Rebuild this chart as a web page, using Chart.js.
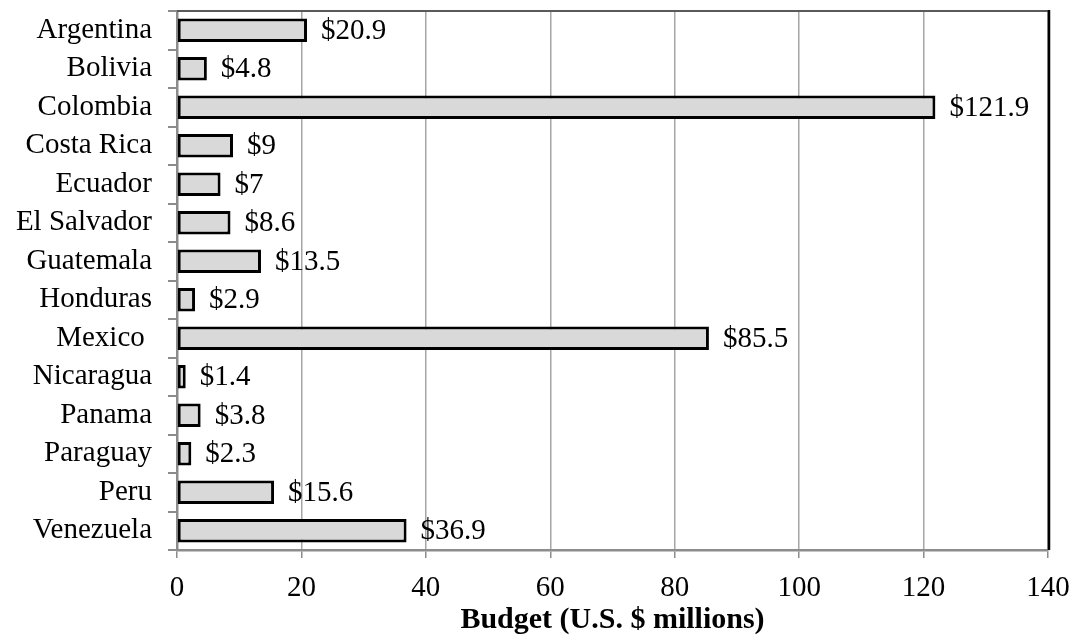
<!DOCTYPE html>
<html>
<head>
<meta charset="utf-8">
<title>Budget by country</title>
<script src="https://cdn.jsdelivr.net/npm/chart.js@4.4.1/dist/chart.umd.min.js"></script>
<style>
  html, body { margin: 0; padding: 0; background: #ffffff; }
  canvas { display: block; }
</style>
</head>
<body>
<canvas id="budgetChart" width="1070" height="638"></canvas>
<script>
// Budget per country, U.S. $ millions
const countries = ['Argentina', 'Bolivia', 'Colombia', 'Costa Rica', 'Ecuador', 'El Salvador',
  'Guatemala', 'Honduras', 'Mexico ', 'Nicaragua', 'Panama', 'Paraguay', 'Peru', 'Venezuela'];
const budgets = [20.9, 4.8, 121.9, 9, 7, 8.6, 13.5, 2.9, 85.5, 1.4, 3.8, 2.3, 15.6, 36.9];
const xMin = 0;
const xMax = 140;
const xStep = 20;
const axisTitle = 'Budget (U.S. $ millions)';

const SERIF = "'Liberation Serif', 'Times New Roman', serif";
const FONT_SIZE = 29;

// Writes "$value" just past the end of each bar
const valueLabels = {
  id: 'valueLabels',
  afterDatasetsDraw(chart) {
    const ctx = chart.ctx;
    const meta = chart.getDatasetMeta(0);
    ctx.save();
    ctx.font = FONT_SIZE + 'px ' + SERIF;
    ctx.fillStyle = '#000000';
    ctx.textAlign = 'left';
    ctx.textBaseline = 'middle';
    meta.data.forEach((bar, i) => {
      ctx.fillText('$' + budgets[i], bar.x + 14, bar.y + 1);
    });
    ctx.restore();
  }
};

// Closes the plot area with a top and right edge
const plotFrame = {
  id: 'plotFrame',
  afterDraw(chart) {
    const { ctx, chartArea: a } = chart;
    ctx.save();
    ctx.strokeStyle = '#5a5a5a';
    ctx.lineWidth = 2;
    ctx.beginPath();
    ctx.moveTo(a.left, a.top);
    ctx.lineTo(a.right + 1, a.top);
    ctx.stroke();
    ctx.strokeStyle = '#000000';
    ctx.lineWidth = 2.5;
    ctx.beginPath();
    ctx.moveTo(a.right + 1, a.top - 1);
    ctx.lineTo(a.right + 1, a.bottom);
    ctx.stroke();
    ctx.restore();
  }
};

new Chart(document.getElementById('budgetChart'), {
  type: 'bar',
  data: {
    labels: countries,
    datasets: [{
      data: budgets,
      backgroundColor: '#d9d9d9',
      borderColor: '#000000',
      borderWidth: 3,
      borderSkipped: false,
      categoryPercentage: 1,
      barPercentage: 0.61
    }]
  },
  options: {
    indexAxis: 'y',
    responsive: false,
    animation: false,
    devicePixelRatio: 1,
    layout: { padding: { top: 11, right: 22, left: 0, bottom: 0 } },
    plugins: {
      legend: { display: false },
      tooltip: { enabled: false }
    },
    scales: {
      x: {
        min: xMin,
        max: xMax,
        ticks: {
          stepSize: xStep,
          color: '#000000',
          padding: 13,
          font: { family: SERIF, size: FONT_SIZE }
        },
        grid: {
          color: '#a6a6a6',
          lineWidth: 1.5,
          tickLength: 8,
          tickColor: '#8c8c8c'
        },
        border: { display: true, color: '#8c8c8c', width: 2.5 },
        title: {
          display: true,
          text: axisTitle,
          color: '#000000',
          padding: { top: 0, bottom: 0 },
          font: { family: SERIF, size: 30, weight: 'bold' }
        },
        afterFit(scale) {
          scale.height = 88;
          scale.paddingLeft = 0;
          scale.paddingRight = 0;
        }
      },
      y: {
        ticks: {
          color: '#000000',
          padding: 16,
          font: { family: SERIF, size: FONT_SIZE }
        },
        grid: {
          drawOnChartArea: false,
          drawTicks: true,
          tickLength: 9,
          color: '#8c8c8c',
          lineWidth: 2
        },
        border: { display: true, color: '#8c8c8c', width: 2.5 },
        afterFit(scale) {
          scale.width = 177;
          scale.paddingTop = 0;
          scale.paddingBottom = 0;
        }
      }
    }
  },
  plugins: [valueLabels, plotFrame]
});
</script>
</body>
</html>
